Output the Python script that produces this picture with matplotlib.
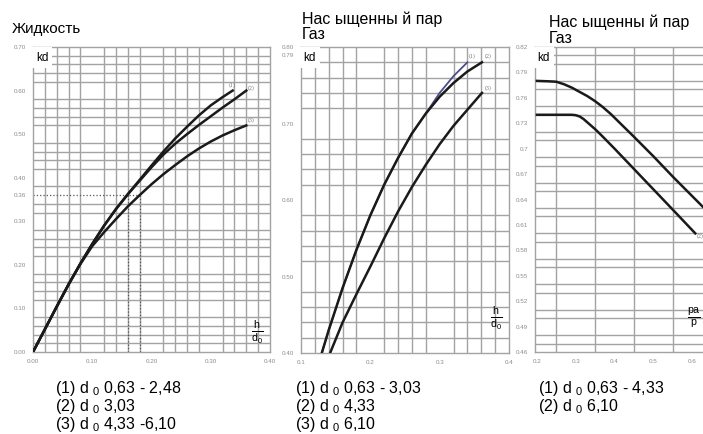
import numpy as np
import matplotlib
matplotlib.use("Agg")
import matplotlib.pyplot as plt
from matplotlib import font_manager

W, H = 703, 434

# --- panel 1: Жидкость (kd vs h/d0) ---
liq_x1 = [0.0, 0.02, 0.04, 0.06, 0.08, 0.10, 0.12, 0.14, 0.16, 0.18, 0.20, 0.22, 0.24, 0.26,
          0.28, 0.30, 0.32, 0.337]
liq_y1 = [0.0, 0.052, 0.104, 0.155, 0.203, 0.248, 0.29, 0.328, 0.362, 0.395, 0.428, 0.46,
          0.49, 0.517, 0.543, 0.566, 0.585, 0.60]
liq_x2 = [0.0, 0.02, 0.04, 0.06, 0.08, 0.10, 0.12, 0.14, 0.16, 0.18, 0.20, 0.22, 0.24, 0.26,
          0.28, 0.30, 0.32, 0.34, 0.36]
liq_y2 = [0.0, 0.052, 0.104, 0.155, 0.203, 0.248, 0.29, 0.328, 0.362, 0.393, 0.424, 0.453,
          0.478, 0.50, 0.521, 0.541, 0.561, 0.58, 0.60]
liq_x3 = [0.0, 0.02, 0.04, 0.06, 0.08, 0.10, 0.12, 0.14, 0.16, 0.18, 0.20, 0.22, 0.24, 0.26,
          0.28, 0.30, 0.32, 0.34, 0.36]
liq_y3 = [0.0, 0.052, 0.104, 0.155, 0.202, 0.243, 0.275, 0.305, 0.334, 0.36, 0.385, 0.408,
          0.429, 0.449, 0.467, 0.483, 0.497, 0.509, 0.52]
liq_yticks = [0.00, 0.10, 0.20, 0.30, 0.36, 0.40, 0.50, 0.60, 0.70]
liq_xticks = [0.00, 0.10, 0.20, 0.30, 0.40]
liq_legend = ["(1) d $_0$ 0,63 - 2,48", "(2) d $_0$ 3,03", "(3) d $_0$ 4,33 -6,10"]

# --- panel 2: Насыщенный пар / Газ (kd vs h/d0) ---
gas_x1 = [0.130, 0.14, 0.16, 0.18, 0.20, 0.22, 0.24, 0.26, 0.28, 0.30, 0.32, 0.34]
gas_y1 = [0.40, 0.43, 0.485, 0.535, 0.58, 0.62, 0.655, 0.687, 0.713, 0.74, 0.762, 0.78]
gas_x2 = [0.130, 0.14, 0.16, 0.18, 0.20, 0.22, 0.24, 0.26, 0.28, 0.30, 0.32, 0.34, 0.361]
gas_y2 = [0.40, 0.43, 0.485, 0.535, 0.58, 0.62, 0.655, 0.687, 0.713, 0.735, 0.753, 0.768, 0.78]
gas_x3 = [0.142, 0.16, 0.18, 0.20, 0.22, 0.24, 0.26, 0.28, 0.30, 0.32, 0.34, 0.361]
gas_y3 = [0.40, 0.44, 0.477, 0.513, 0.55, 0.585, 0.617, 0.646, 0.673, 0.697, 0.718, 0.74]
gas_yticks = [0.40, 0.50, 0.60, 0.70, 0.79, 0.80]
gas_xticks = [0.1, 0.2, 0.3, 0.4]
gas_legend = ["(1) d $_0$ 0,63 - 3,03", "(2) d $_0$ 4,33", "(3) d $_0$ 6,10"]

# --- panel 3: Насыщенный пар / Газ (kd vs pa/p) ---
pr_x1 = [0.20, 0.23, 0.25, 0.27, 0.29, 0.31, 0.33, 0.35, 0.37, 0.39, 0.41, 0.45, 0.50, 0.55,
         0.60, 0.65]
pr_y1 = [0.780, 0.7795, 0.779, 0.776, 0.772, 0.767, 0.762, 0.756, 0.749, 0.741, 0.732, 0.714,
         0.691, 0.667, 0.644, 0.621]
pr_x2 = [0.20, 0.25, 0.29, 0.30, 0.31, 0.32, 0.33, 0.34, 0.35, 0.37, 0.40, 0.45, 0.50, 0.55,
         0.608]
pr_y2 = [0.740, 0.740, 0.740, 0.7395, 0.738, 0.735, 0.731, 0.727, 0.723, 0.714, 0.700, 0.676,
         0.652, 0.628, 0.600]
pr_yticks = [0.46, 0.49, 0.52, 0.55, 0.58, 0.61, 0.64, 0.67, 0.70, 0.73, 0.76, 0.79, 0.82]
pr_ylabels = ["0.46", "0.49", "0.52", "0.55", "0.58", "0.61", "0.64", "0.67", "0.7",
              "0.73", "0.76", "0.79", "0.82"]
pr_xticks = [0.2, 0.3, 0.4, 0.5, 0.6]
pr_legend = ["(1) d $_0$ 0,63 - 4,33", "(2) d $_0$ 6,10"]

title_liq = "Жидкость"
title_gas = ["Нас ыщенны й пар", "Газ"]

installed = {f.name for f in font_manager.fontManager.ttflist}
NARROW = "Liberation Sans Narrow" if "Liberation Sans Narrow" in installed else "Liberation Sans"
plt.rcParams["font.family"] = ["Liberation Sans", "DejaVu Sans"]
plt.rcParams["mathtext.fontset"] = "custom"
plt.rcParams["mathtext.rm"] = NARROW
plt.rcParams["mathtext.it"] = NARROW
plt.rcParams["mathtext.default"] = "regular"

GRID = "#a3a3a3"
TICK = "#8c8c8c"

fig = plt.figure(figsize=(W / 100, H / 100), dpi=100)


def px_axes(left, right, top, bottom):
    return fig.add_axes([left / W, 1 - bottom / H, (right - left) / W, (bottom - top) / H])


def fx(x):
    return x / W


def fy(y):
    return 1 - y / H


def style(ax, xlim, ylim, xgrid, ygrid, xticks, xlabels, yticks, ylabels):
    ax.set_xlim(*xlim)
    ax.set_ylim(*ylim)
    ax.set_xticks(xgrid, minor=True)
    ax.set_yticks(ygrid, minor=True)
    ax.set_xticks(xticks)
    ax.set_xticklabels(xlabels)
    ax.set_yticks(yticks)
    ax.set_yticklabels(ylabels)
    ax.grid(which="minor", color=GRID, lw=1.0)
    ax.tick_params(which="both", length=0, labelsize=4.5, labelcolor=TICK, pad=5)
    for s in ax.spines.values():
        s.set_color(GRID)
        s.set_linewidth(1.0)
    ax.set_axisbelow(True)


def kd_box(ax):
    ax.text(0.012, 0.985, "kd", transform=ax.transAxes, ha="left", va="top", fontsize=8.5,
            bbox=dict(boxstyle="square,pad=0.35", fc="white", ec="none"), zorder=5)


def curve_label(ax, x, y, s, ha="left"):
    ax.text(x, y, s, fontsize=3.5, family="DejaVu Serif", color="#777777", ha=ha, va="center")


def legend(x, lines):
    for i, s in enumerate(lines):
        fig.text(fx(x), fy(393 + 18 * i), s, fontsize=11.5, family=NARROW, va="baseline", ha="left")


# ---------- panel 1 ----------
ax1 = px_axes(33, 270, 47, 352)
style(ax1, (0, 0.40), (0, 0.70), np.arange(0, 0.401, 0.02), np.arange(0, 0.701, 0.02),
      liq_xticks, [f"{v:.2f}" for v in liq_xticks], liq_yticks, [f"{v:.2f}" for v in liq_yticks])
ax1.plot(liq_x1, liq_y1, color="#1a1a1a", lw=1.8, zorder=3)
ax1.plot(liq_x2, liq_y2, color="#1a1a1a", lw=1.8, zorder=3)
ax1.plot(liq_x3, liq_y3, color="#1a1a1a", lw=1.8, zorder=3)
ax1.plot([0, 0.18], [0.36, 0.36], color="#555555", lw=0.9, ls=":", zorder=2)
ax1.plot([0.16, 0.16], [0, 0.36], color="#555555", lw=0.9, ls=":", zorder=2)
ax1.plot([0.18, 0.18], [0, 0.36], color="#555555", lw=0.9, ls=":", zorder=2)
curve_label(ax1, liq_x1[-1] - 0.006, liq_y1[-1] + 0.012, "(1)")
curve_label(ax1, liq_x2[-1] + 0.002, liq_y2[-1] + 0.004, "(2)")
curve_label(ax1, liq_x3[-1] + 0.002, liq_y3[-1] + 0.012, "(3)")
kd_box(ax1)
ax1.text(0.378, 0.045, r"$\frac{h}{d_0}$", fontsize=11, ha="center", va="center")

# ---------- panel 2 ----------
ax2 = px_axes(301, 509, 47, 353)
style(ax2, (0.1, 0.4), (0.40, 0.80), np.arange(0.1, 0.401, 0.02), np.arange(0.40, 0.801, 0.02),
      gas_xticks, [f"{v:.1f}" for v in gas_xticks], gas_yticks, [f"{v:.2f}" for v in gas_yticks])
ax2.plot(gas_x1, gas_y1, color="#4a4f8a", lw=1.3, zorder=3)
ax2.plot(gas_x2, gas_y2, color="#1a1a1a", lw=1.8, zorder=4)
ax2.plot(gas_x3, gas_y3, color="#1a1a1a", lw=1.8, zorder=3)
curve_label(ax2, gas_x1[-1] + 0.002, gas_y1[-1] + 0.008, "(1)")
curve_label(ax2, gas_x2[-1] + 0.004, gas_y2[-1] + 0.008, "(2)")
curve_label(ax2, gas_x3[-1] + 0.004, gas_y3[-1] + 0.006, "(3)")
kd_box(ax2)
ax2.text(0.381, 0.445, r"$\frac{h}{d_0}$", fontsize=11, ha="center", va="center")

# ---------- panel 3 (runs past the right edge, as in the source) ----------
ax3 = px_axes(535, 731, 47, 352)
style(ax3, (0.195, 0.70), (0.46, 0.82), np.arange(0.2, 0.701, 0.05), np.arange(0.46, 0.8201, 0.01),
      pr_xticks, [f"{v:.1f}" for v in pr_xticks], pr_yticks, pr_ylabels)
ax3.plot(pr_x1, pr_y1, color="#1a1a1a", lw=1.8, zorder=3)
ax3.plot(pr_x2, pr_y2, color="#1a1a1a", lw=1.8, zorder=3)
curve_label(ax3, pr_x2[-1] + 0.004, pr_y2[-1] - 0.004, "(2)")
kd_box(ax3)
ax3.text(0.622, 0.50, r"$\frac{pa}{p}$", fontsize=11, ha="right", va="center")

# ---------- titles and legends ----------
fig.text(fx(12), fy(33), title_liq, fontsize=11, va="baseline", ha="left")
fig.text(fx(302), fy(24), title_gas[0], fontsize=11.5, family=NARROW, va="baseline", ha="left")
fig.text(fx(302), fy(39), title_gas[1], fontsize=11.5, family=NARROW, va="baseline", ha="left")
fig.text(fx(549), fy(27), title_gas[0], fontsize=11.5, family=NARROW, va="baseline", ha="left")
fig.text(fx(549), fy(43), title_gas[1], fontsize=11.5, family=NARROW, va="baseline", ha="left")

legend(55, liq_legend)
legend(295, gas_legend)
legend(538, pr_legend)

fig.savefig("out.png", dpi=100)
